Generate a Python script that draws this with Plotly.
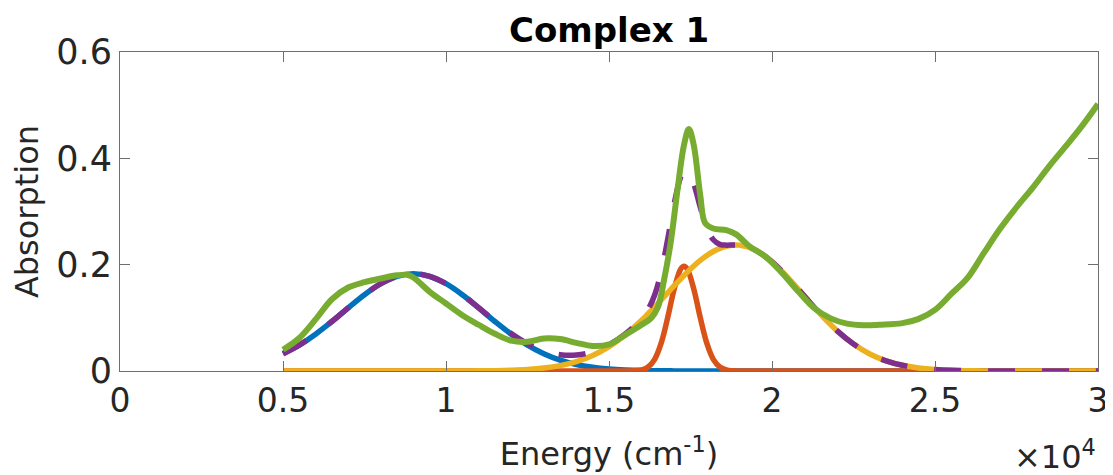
import plotly.graph_objects as go

# Energy grid (x 10^4 cm^-1) for the fitted components
fit_x = [0.50, 0.55, 0.60, 0.65, 0.70, 0.75, 0.80, 0.85, 0.90, 0.95,
         1.00, 1.05, 1.10, 1.15, 1.20, 1.25, 1.30, 1.35, 1.40, 1.45,
         1.50, 1.55, 1.60, 1.62, 1.64, 1.66, 1.68, 1.70, 1.72, 1.73,
         1.74, 1.76, 1.78, 1.80, 1.82, 1.84, 1.86, 1.88, 1.90, 1.95,
         2.00, 2.05, 2.10, 2.15, 2.20, 2.25, 2.30, 2.35, 2.40, 2.45,
         2.50, 2.55, 2.60, 2.65, 2.70, 2.75, 2.80, 2.85, 2.90, 2.95, 3.00]

band1 = [0.0325, 0.0487, 0.0692, 0.0931, 0.1188, 0.1435, 0.1642, 0.1781, 0.1830, 0.1781,
         0.1642, 0.1435, 0.1188, 0.0931, 0.0692, 0.0487, 0.0325, 0.0205, 0.0123, 0.0070,
         0.0037, 0.0019, 0.0009, 0.0007, 0.0005, 0.0004, 0.0003, 0.0002, 0.0001, 0.0001,
         0.0001, 0.0001, 0.0, 0.0, 0.0, 0.0, 0.0, 0.0, 0.0, 0.0,
         0.0, 0.0, 0.0, 0.0, 0.0, 0.0, 0.0, 0.0, 0.0, 0.0,
         0.0, 0.0, 0.0, 0.0, 0.0, 0.0, 0.0, 0.0, 0.0, 0.0, 0.0]

band2 = [0.0, 0.0, 0.0, 0.0, 0.0, 0.0, 0.0, 0.0, 0.0, 0.0,
         0.0, 0.0, 0.0, 0.0, 0.0, 0.0, 0.0, 0.0, 0.0, 0.0,
         0.0, 0.0, 0.0020, 0.0075, 0.0220, 0.0524, 0.1002, 0.1544, 0.1917, 0.1970,
         0.1917, 0.1544, 0.1002, 0.0524, 0.0220, 0.0075, 0.0020, 0.0004, 0.0, 0.0,
         0.0, 0.0, 0.0, 0.0, 0.0, 0.0, 0.0, 0.0, 0.0, 0.0,
         0.0, 0.0, 0.0, 0.0, 0.0, 0.0, 0.0, 0.0, 0.0, 0.0, 0.0]

band3 = [0.0, 0.0, 0.0, 0.0, 0.0, 0.0, 0.0, 0.0, 0.0, 0.0,
         0.0, 0.0001, 0.0003, 0.0006, 0.0014, 0.0028, 0.0055, 0.0101, 0.0177, 0.0292,
         0.0457, 0.0679, 0.0954, 0.1077, 0.1205, 0.1337, 0.1471, 0.1604, 0.1734, 0.1797,
         0.1858, 0.1974, 0.2079, 0.2171, 0.2248, 0.2307, 0.2347, 0.2367, 0.2367, 0.2271,
         0.2052, 0.1748, 0.1403, 0.1060, 0.0755, 0.0507, 0.0321, 0.0191, 0.0107, 0.0057,
         0.0028, 0.0013, 0.0006, 0.0002, 0.0001, 0.0, 0.0, 0.0, 0.0, 0.0, 0.0]

fit_total = [0.0325, 0.0487, 0.0692, 0.0931, 0.1188, 0.1435, 0.1642, 0.1781, 0.1830, 0.1781,
             0.1642, 0.1436, 0.1191, 0.0937, 0.0706, 0.0515, 0.0380, 0.0306, 0.0300, 0.0362,
             0.0494, 0.0698, 0.0983, 0.1159, 0.1430, 0.1865, 0.2476, 0.3150, 0.3652, 0.3768,
             0.3776, 0.3519, 0.3081, 0.2695, 0.2468, 0.2382, 0.2367, 0.2371, 0.2367, 0.2271,
             0.2052, 0.1748, 0.1403, 0.1060, 0.0755, 0.0507, 0.0321, 0.0191, 0.0107, 0.0057,
             0.0028, 0.0013, 0.0006, 0.0002, 0.0001, 0.0, 0.0, 0.0, 0.0, 0.0, 0.0]

# Measured spectrum
exp_x = [0.50, 0.55, 0.60, 0.65, 0.70, 0.75, 0.80, 0.85, 0.88, 0.90,
         0.95, 1.00, 1.05, 1.10, 1.15, 1.20, 1.25, 1.30, 1.35, 1.40,
         1.45, 1.50, 1.55, 1.60, 1.63, 1.65, 1.67, 1.69, 1.71, 1.73,
         1.745, 1.76, 1.78, 1.795, 1.82, 1.86, 1.89, 1.93, 1.98, 2.03,
         2.08, 2.13, 2.18, 2.23, 2.28, 2.33, 2.40, 2.45, 2.50, 2.55,
         2.60, 2.65, 2.70, 2.75, 2.80, 2.85, 2.90, 2.95, 3.00]
exp_y = [0.040, 0.062, 0.097, 0.135, 0.157, 0.167, 0.174, 0.180, 0.181, 0.176,
         0.149, 0.127, 0.105, 0.087, 0.070, 0.057, 0.055, 0.061, 0.060, 0.053,
         0.047, 0.050, 0.068, 0.087, 0.100, 0.120, 0.175, 0.245, 0.340, 0.425,
         0.455, 0.425, 0.330, 0.278, 0.268, 0.265, 0.257, 0.235, 0.215, 0.185,
         0.150, 0.118, 0.099, 0.089, 0.086, 0.087, 0.090, 0.098, 0.115, 0.145,
         0.175, 0.222, 0.268, 0.308, 0.345, 0.385, 0.422, 0.460, 0.502]

x_ticks = [0, 0.5, 1, 1.5, 2, 2.5, 3]
x_ticklabels = ["0", "0.5", "1", "1.5", "2", "2.5", "3"]
y_ticks = [0, 0.2, 0.4, 0.6]
y_ticklabels = ["0", "0.2", "0.4", "0.6"]

FONT = "DejaVu Sans"
LW = 5.5

fig = go.Figure()
fig.add_trace(go.Scatter(x=fit_x, y=band1, mode="lines", line=dict(color="#0072BD", width=LW, shape="spline"), cliponaxis=False))
fig.add_trace(go.Scatter(x=fit_x, y=band2, mode="lines", line=dict(color="#D95319", width=LW, shape="spline"), cliponaxis=False))
fig.add_trace(go.Scatter(x=fit_x, y=band3, mode="lines", line=dict(color="#EDB120", width=LW, shape="spline"), cliponaxis=False))
fig.add_trace(go.Scatter(x=fit_x, y=fit_total, mode="lines", line=dict(color="#7E2F8E", width=LW, shape="spline", dash="27px,27px"), cliponaxis=False))
fig.add_trace(go.Scatter(x=exp_x, y=exp_y, mode="lines", line=dict(color="#77AC30", width=6, shape="spline"), cliponaxis=False))

axis_common = dict(
    showgrid=False, zeroline=False, showline=True, linecolor="#6e6e6e", linewidth=1,
    mirror="ticks", ticks="inside", ticklen=10, tickwidth=1, tickcolor="#6e6e6e",
    automargin=False,
)

fig.update_layout(
    width=1105, height=467,
    margin=dict(l=112, r=15, t=44, b=104),
    paper_bgcolor="white", plot_bgcolor="white",
    showlegend=False,
    title=dict(text="<b>Complex 1</b>", x=0.544, xanchor="center", y=0.953, yanchor="middle",
               font=dict(family=FONT, size=34, color="black"), automargin=False),
    xaxis=dict(range=[0, 3], tickvals=x_ticks, ticktext=x_ticklabels,
               tickfont=dict(family=FONT, size=33, color="#262626"),
               title=dict(text="Energy (cm<sup>-1</sup>)", font=dict(family=FONT, size=32, color="#262626"), standoff=24),
               **axis_common),
    yaxis=dict(range=[0, 0.6], tickvals=y_ticks, ticktext=y_ticklabels,
               tickfont=dict(family=FONT, size=35, color="#262626"),
               title=dict(text="Absorption", font=dict(family=FONT, size=32, color="#262626"), standoff=12),
               **axis_common),
    annotations=[dict(text="×10<sup>4</sup>", xref="paper", yref="paper", x=1.0, y=-0.262,
                      xanchor="right", yanchor="middle", showarrow=False,
                      font=dict(family=FONT, size=32, color="#262626"))],
)

fig.write_html("out.html")
